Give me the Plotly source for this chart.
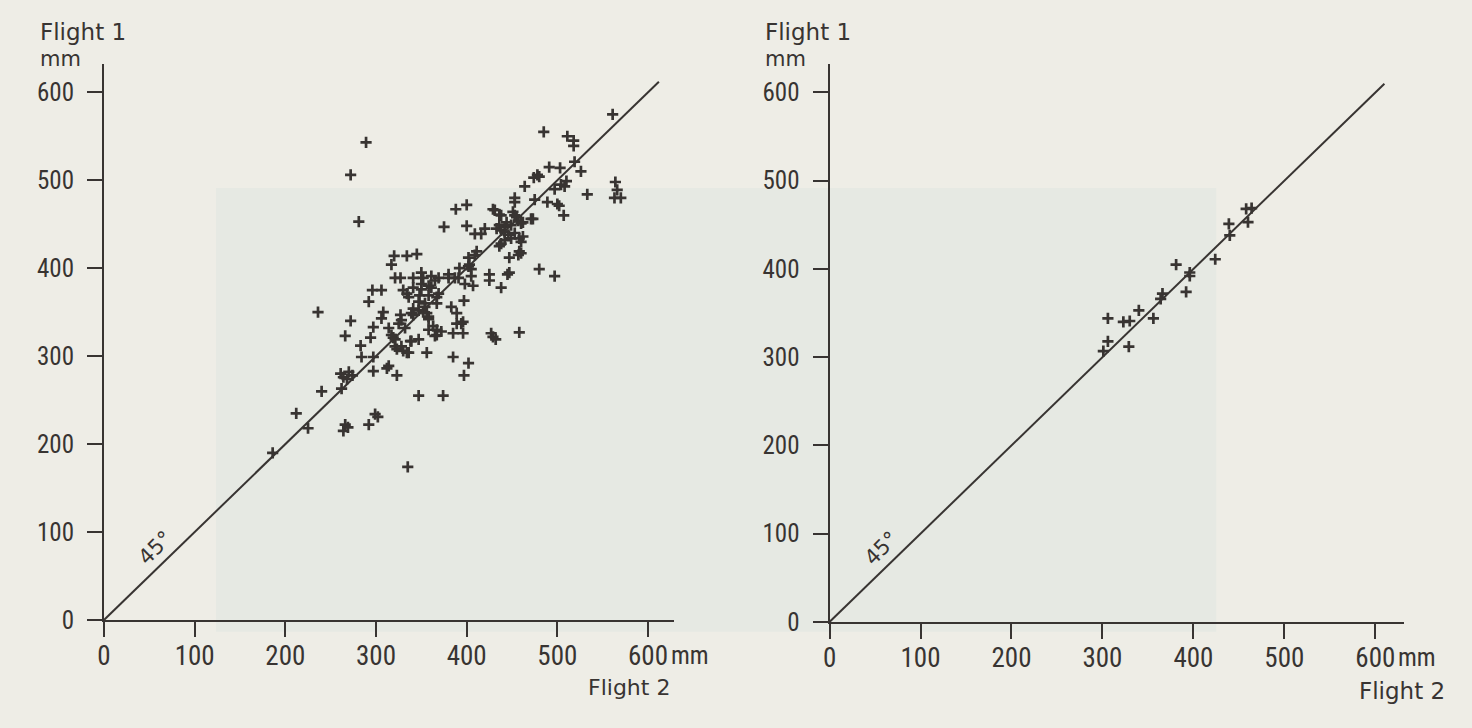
import plotly.graph_objects as go

# ---------------- data ----------------
left_flight2 = [186,212,225,240,262,264,261,270,274,268,266,269,264,292,299,302,283,284,297,297,314,312,323,335,347,374,385,397,402,236,272,266,297,294,308,306,314,323,334,356,427,432,458,
                320,334,345,317,321,327,341,350,352,361,369,380,380,387,391,392,402,405,411,402,409,425,425,445,438,398,407,397,296,306,330,334,336,341,350,350,358,361,365,348,358,367,369,347,354,292,327,328,325,332,341,339,341,347,352,356,358,354,367,358,367,372,367,365,383,389,396,319,321,339,347,363,389,394,317,338,321,328,330,336,358,385,396,429,
                375,400,388,400,429,438,451,455,457,444,436,442,433,438,442,449,446,460,462,453,449,458,462,460,420,416,409,471,457,460,458,442,438,436,447,403,405,480,447,497,491,503,519,526,474,478,480,464,504,510,508,497,453,453,475,489,500,502,507,561,485,511,518,518,289,272,281,533,564,566,563,570,431,436,453,473]
left_flight1 = [190,235,218,260,263,276,280,282,278,274,222,219,215,222,234,231,312,299,299,283,289,286,278,174,255,255,299,278,292,350,340,323,333,321,350,343,332,308,304,304,326,319,327,
                414,414,416,404,389,389,389,395,389,391,389,393,389,389,389,400,402,391,419,412,415,393,386,393,378,382,380,363,375,375,375,371,367,378,382,376,380,378,386,369,369,367,371,362,360,362,347,341,337,332,354,349,347,352,350,349,345,356,360,330,330,328,324,323,356,349,339,321,319,317,319,334,337,337,324,317,311,311,306,304,342,326,326,322,
                447,448,467,472,467,460,464,458,454,452,449,447,445,443,441,449,438,451,452,440,434,434,436,430,445,439,439,456,415,417,419,432,428,425,412,404,399,399,395,391,515,514,521,510,503,506,504,493,495,499,493,490,480,475,478,475,473,471,460,575,555,550,545,539,543,506,453,484,498,489,480,480,466,461,460,456]

right_flight2 = [458,464,460,439,440,424,381,396,396,392,366,364,356,340,323,330,306,306,301,329]
right_flight1 = [468,469,453,451,438,411,405,396,392,374,372,366,344,353,340,341,344,318,307,312]

line_45_left = [0, 612]
line_45_right = [0, 610]
tick_values = [0, 100, 200, 300, 400, 500, 600]
tick_labels = ["0", "100", "200", "300", "400", "500", "600"]

# ---------------- style ----------------
W, H = 1472, 728
INK = "#383432"
FONT_NUM = "Liberation Sans Narrow, Roboto Condensed, Open Sans, sans-serif"
FONT_TXT = "DejaVu Sans, sans-serif"

def px(x):
    return x / W

def py(y):
    return 1 - y / H

fig = go.Figure()

marker = dict(symbol="cross-thin", size=8, color=INK, line=dict(width=2.7, color=INK))

fig.add_trace(go.Scatter(x=line_45_left, y=line_45_left, mode="lines",
                         line=dict(color=INK, width=2), xaxis="x", yaxis="y", hoverinfo="skip"))
fig.add_trace(go.Scatter(x=left_flight2, y=left_flight1, mode="markers", marker=marker,
                         xaxis="x", yaxis="y"))
fig.add_trace(go.Scatter(x=line_45_right, y=line_45_right, mode="lines",
                         line=dict(color=INK, width=2), xaxis="x2", yaxis="y2", hoverinfo="skip"))
fig.add_trace(go.Scatter(x=right_flight2, y=right_flight1, mode="markers", marker=marker,
                         xaxis="x2", yaxis="y2"))

axis_common = dict(showgrid=False, zeroline=False, showline=True, linecolor=INK, linewidth=2,
                   ticks="outside", ticklen=15, tickwidth=2, tickcolor=INK,
                   tickvals=tick_values, ticktext=tick_labels, fixedrange=True)

xfont = dict(family=FONT_NUM, size=27, color=INK)
yfont = dict(family=FONT_NUM, size=25, color=INK)

fig.update_layout(
    width=W, height=H, autosize=False,
    margin=dict(l=0, r=0, t=0, b=0),
    paper_bgcolor="#eeede6", plot_bgcolor="rgba(0,0,0,0)",
    showlegend=False,
    xaxis=dict(axis_common, domain=[px(97.5), px(670.5)], range=[0, 629], anchor="y",
               tickfont=xfont, ticklabelstandoff=-4),
    yaxis=dict(axis_common, domain=[py(633), py(65.5)], range=[0, 632], anchor="x",
               tickfont=yfont, ticklabelstandoff=8),
    xaxis2=dict(axis_common, domain=[px(826.5), px(1404.1)], range=[0, 632], anchor="y2",
                tickfont=xfont, ticklabelstandoff=-4),
    yaxis2=dict(axis_common, domain=[py(635), py(65.6)], range=[0, 632], anchor="x2",
                tickfont=yfont, ticklabelstandoff=8),
    shapes=[dict(type="rect", xref="paper", yref="paper", layer="below",
                 x0=px(210), x1=px(1215), y0=py(645), y1=py(192),
                 fillcolor="#e6e9e3", line=dict(width=0))],
)

def note(text, x, y, size=23, xanchor="left", yanchor="middle", angle=0, family=FONT_TXT):
    fig.add_annotation(text=text, x=px(x), y=py(y), xref="paper", yref="paper",
                       showarrow=False, xanchor=xanchor, yanchor=yanchor, textangle=angle,
                       font=dict(family=family, size=size, color=INK))

# axis titles
note("Flight 1", 31, 33, size=23)
note("mm", 31, 60, size=21)
note("Flight 1", 760, 33, size=23)
note("mm", 760, 60, size=21)
note("Flight 2", 582, 702, size=22)
note("Flight 2", 1356, 706, size=23)
# unit after the 600 tick
note("mm", 665, 669, size=25, family=FONT_NUM)
note("mm", 1396, 671, size=25, family=FONT_NUM)
# 45 degree labels
note("45°", 149, 560, size=21, xanchor="center", angle=-45)
note("45°", 879, 560, size=21, xanchor="center", angle=-45)

fig.write_html("out.html",
               config={"displayModeBar": False},
               post_script="document.body.style.margin='0';document.body.style.padding='0';"
                           "document.body.style.overflow='hidden';"
                           "document.body.style.background='#eeede6';")
